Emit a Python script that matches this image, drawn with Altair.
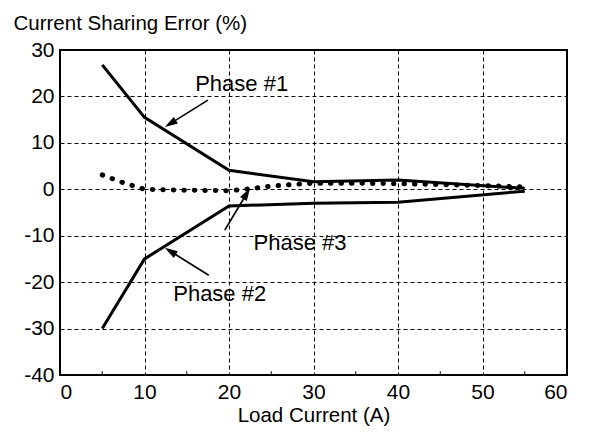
import math
import altair as alt
import pandas as pd

# ---- data ----
load_x = [5, 10, 20, 30, 40, 55]
phase1 = [26.8, 15.5, 4.1, 1.6, 2.0, 0.2]
phase2 = [-30.0, -15.0, -3.6, -3.0, -2.8, -0.4]
p3_x = [5, 7.5, 10, 15, 20, 22.5, 25, 28, 30, 35, 40, 45, 50, 55]
phase3 = [3.1, 1.4, 0.0, -0.2, -0.3, 0.1, 0.7, 1.1, 1.3, 1.3, 1.2, 1.0, 0.8, 0.5]

labels = ["Phase #1", "Phase #2", "Phase #3"]
label_x = [21.5, 18.9, 28.4]
label_y = [22.7, -22.6, -11.6]
arrow_tail_x = [17.5, 17.6, 19.5]
arrow_tail_y = [19.2, -18.5, -8.8]
arrow_head_x = [12.4, 12.4, 22.5]
arrow_head_y = [13.4, -12.6, 0.3]

x_ticks = [0, 10, 20, 30, 40, 50, 60]
y_ticks = list(range(-40, 31, 5))
minor_x = [5, 15, 25, 35, 45, 55]

W, H = 507, 325
FONT = "Liberation Sans"
xs = alt.Scale(domain=[0, 60], nice=False, zero=False)
ys = alt.Scale(domain=[-40, 30], nice=False, zero=False)

solid_df = pd.DataFrame(
    {"x": load_x * 2, "y": phase1 + phase2,
     "series": ["Phase #1"] * len(load_x) + ["Phase #2"] * len(load_x)}
)
dot_df = pd.DataFrame({"x": p3_x, "y": phase3})

x_axis = alt.Axis(values=x_ticks, grid=True, gridDash=[4, 3], gridColor="black",
                  gridWidth=1, ticks=False, domain=False, labelFont=FONT,
                  labelFontSize=21, labelColor="black", labelPadding=6,
                  labelExpr="'' + datum.value",
                  title="Load Current (A)", titleFont=FONT, titleFontSize=20.5,
                  titleFontWeight="normal", titleColor="black", titlePadding=3)
y_axis = alt.Axis(values=y_ticks, grid=True, gridDash=[4, 3], gridColor="black",
                  gridWidth=1, ticks=False, domain=False, labelFont=FONT,
                  labelFontSize=21, labelColor="black", labelPadding=6,
                  labelExpr="datum.value % 10 == 0 ? '' + datum.value : ''",
                  title="Current Sharing Error (%)", titleFont=FONT,
                  titleFontSize=20.5, titleFontWeight="normal", titleColor="black",
                  titleAngle=0, titleAlign="left", titleBaseline="alphabetic",
                  titleX=-47, titleY=-21)

solid = alt.Chart(solid_df).mark_line(color="black", strokeWidth=3).encode(
    x=alt.X("x:Q", scale=xs, axis=x_axis),
    y=alt.Y("y:Q", scale=ys, axis=y_axis),
    detail="series:N",
)

dotted = alt.Chart(dot_df).mark_line(
    color="black", strokeWidth=5, strokeDash=[0.5, 10], strokeCap="round"
).encode(x=alt.X("x:Q", scale=xs), y=alt.Y("y:Q", scale=ys))

minor = alt.Chart(pd.DataFrame({"x": minor_x})).mark_rule(
    color="black", strokeWidth=1
).encode(x=alt.X("x:Q", scale=xs), y=alt.datum(-40, scale=ys), y2=alt.datum(-39.2))

text_df = pd.DataFrame({"x": label_x, "y": label_y, "t": labels})
texts = alt.Chart(text_df).mark_text(
    font=FONT, fontSize=22, color="black", align="center", baseline="middle"
).encode(x=alt.X("x:Q", scale=xs), y=alt.Y("y:Q", scale=ys), text="t:N")

# arrows
sx, sy = W / 60.0, H / 70.0
L = 13.0
rows, heads = [], []
for i in range(3):
    tx, ty, hx, hy = arrow_tail_x[i], arrow_tail_y[i], arrow_head_x[i], arrow_head_y[i]
    dxp = (hx - tx) * sx
    dyp = -(hy - ty) * sy
    n = math.hypot(dxp, dyp)
    ux, uy = dxp / n, dyp / n
    ang = math.degrees(math.atan2(ux, -uy)) % 360
    cx = hx - (ux * L / 2) / sx
    cy = hy + (uy * L / 2) / sy
    rows.append({"a": i, "x": tx, "y": ty, "o": 0})
    rows.append({"a": i, "x": cx, "y": cy, "o": 1})
    heads.append({"x": cx, "y": cy, "ang": ang})

arrow_lines = alt.Chart(pd.DataFrame(rows)).mark_line(
    color="black", strokeWidth=1.7
).encode(x=alt.X("x:Q", scale=xs), y=alt.Y("y:Q", scale=ys), detail="a:N", order="o:Q")

arrow_heads = alt.Chart(pd.DataFrame(heads)).mark_point(
    shape="M0,-1L-0.6,1L0.6,1Z", filled=True, color="black", opacity=1,
    size=L * L, strokeWidth=0
).encode(x=alt.X("x:Q", scale=xs), y=alt.Y("y:Q", scale=ys),
         angle=alt.Angle("ang:Q", scale=None))

chart = alt.layer(solid, dotted, minor, arrow_lines, arrow_heads, texts).properties(
    width=W, height=H,
    padding={"left": 60, "top": 50, "right": 46, "bottom": 58},
    autosize=alt.AutoSizeParams(type="none"),
    background="white",
).configure_view(stroke="black", strokeWidth=2)

chart.save("out.html", embed_options={"renderer": "svg", "actions": False})
